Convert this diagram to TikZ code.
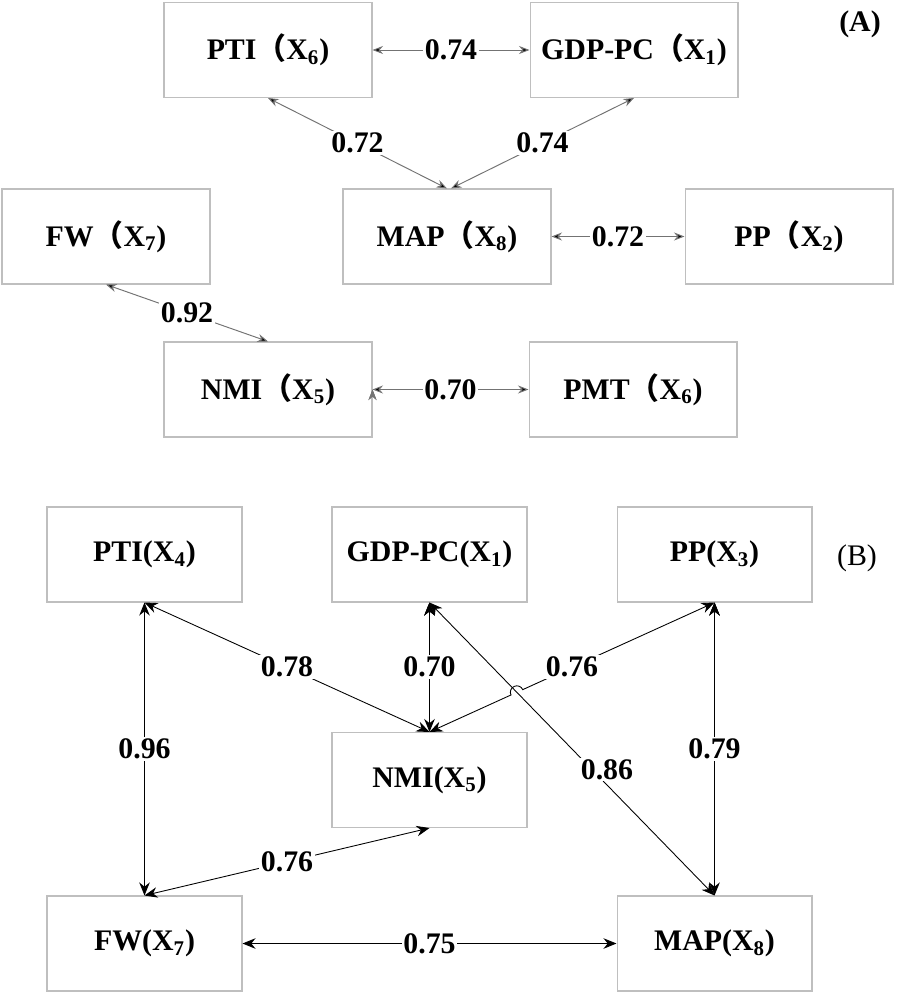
\documentclass[tikz,border=0pt]{standalone}
\usepackage{fontspec}
\setmainfont{Liberation Serif}
\newfontfamily\cjk{Noto Sans CJK SC}
\usetikzlibrary{positioning, arrows.meta, calc, intersections}

\newcommand{\fwparen}{{\cjk （}}
\newcommand{\sub}[1]{\textsubscript{#1}}

\begin{document}
\begin{tikzpicture}[x=0.02cm, y=-0.02cm,
    font=\fontsize{17}{20}\selectfont\bfseries,
    boxA/.style={draw=black!25, line width=0.6pt, minimum width=4.16cm, minimum height=1.9cm},
    boxB/.style={draw=black!25, line width=0.6pt, minimum width=3.9cm, minimum height=1.9cm},
    linkA/.style={draw=black!55, line width=0.55pt, {Stealth[length=2.1mm,width=1.6mm]}-{Stealth[length=2.1mm,width=1.6mm]}},
    linkB/.style={draw=black, line width=0.5pt, {Stealth[length=2.6mm,width=2.1mm]}-{Stealth[length=2.6mm,width=2.1mm]}},
    coef/.style={fill=white, inner sep=1pt}]
  \useasboundingbox (0,0) rectangle (896,997);

  % panel (A)
  \node[boxA] (aPTI) at (268,50)    {PTI\fwparen X\sub{6})};
  \node[boxA] (aGDP) at (634,50)    {GDP-PC\fwparen X\sub{1})};
  \node[boxA] (aFW)  at (106,236.5) {FW\fwparen X\sub{7})};
  \node[boxA] (aMAP) at (447,236.5) {MAP\fwparen X\sub{8})};
  \node[boxA] (aPP)  at (789,236.5) {PP\fwparen X\sub{2})};
  \node[boxA] (aNMI) at (268,389.5) {NMI\fwparen X\sub{5})};
  \node[boxA] (aPMT) at (633,389.5) {PMT\fwparen X\sub{6})};
  \node (lblA) at (860,24) {(A)};

  \path[linkA]
    (aPTI.east)  edge node[coef] {0.74} (aGDP.west)
    (aPTI.south) edge node[coef] {0.72} (aMAP.north)
    (aGDP.south) edge node[coef] {0.74} ([xshift=0.08cm]aMAP.north)
    (aMAP.east)  edge node[coef] {0.72} (aPP.west)
    (aFW.south)  edge node[coef] {0.92} (aNMI.north)
    (aNMI.east)  edge node[coef] {0.70} (aPMT.west);

  % panel (B)
  \node[boxB] (bPTI) at (144.5,554.5) {PTI(X\sub{4})};
  \node[boxB] (bGDP) at (429.5,554.5) {GDP-PC(X\sub{1})};
  \node[boxB] (bPP)  at (714.5,554.5) {PP(X\sub{3})};
  \node[boxB] (bNMI) at (429.5,780)   {NMI(X\sub{5})};
  \node[boxB] (bFW)  at (144.5,943.5) {FW(X\sub{7})};
  \node[boxB] (bMAP) at (714.5,943.5) {MAP(X\sub{8})};
  \node[font=\fontsize{17}{20}\selectfont] (lblB) at (857,558) {(B)};

  \path[linkB]
    (bPTI.south) edge node[coef] {0.96} (bFW.north)
    (bPTI.south) edge node[coef] {0.78} (bNMI.north)
    (bGDP.south) edge node[coef] {0.70} (bNMI.north)
    (bPP.south)  edge node[coef] {0.79} (bMAP.north)
    (bNMI.south) edge node[coef] {0.76} (bFW.north)
    (bFW.east)   edge node[coef] {0.75} (bMAP.west)
    (bPP.south)  edge node[coef] {0.76} (bNMI.north);

  % hop where the two diagonals cross
  \path[name path=ppnmi] (bPP.south) -- (bNMI.north);
  \path[name path=gdpmap] (bGDP.south) -- (bMAP.north);
  \path[name intersections={of=ppnmi and gdpmap, by=hop}];
  \fill[white] (hop) circle[radius=0.12cm];
  \draw[line width=0.5pt] ($(hop)+(204.5:0.13cm)$) arc[start angle=204.5, end angle=24.5, radius=0.13cm];

  \path[linkB]
    (bGDP.south) edge node[coef, pos=0.57, xshift=0.3cm] {0.86} (bMAP.north);
\end{tikzpicture}
\end{document}
